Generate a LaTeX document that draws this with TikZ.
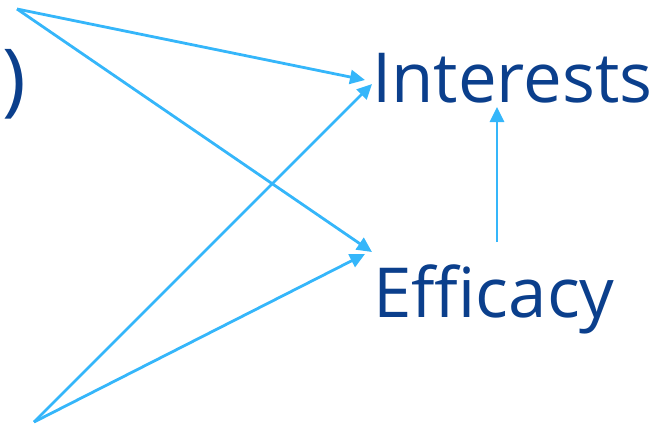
\documentclass[tikz,border=0pt]{standalone}
\usepackage{fontspec}
\setmainfont{Open Sans}
\usetikzlibrary{arrows.meta}
\definecolor{labelblue}{HTML}{0B3F8C}
\definecolor{linkblue}{HTML}{35B6FA}
\tikzset{
  label text/.style={text=labelblue, font=\fontsize{69}{69}\selectfont, inner sep=0pt, anchor=base west},
  link/.style={draw=linkblue, line width=2.8pt, -{Triangle[length=15pt,width=14pt]}}
}
\begin{document}
\begin{tikzpicture}[x=1pt,y=-1pt]
  \useasboundingbox (0,0) rectangle (660,424);
  % labels
  \node[label text] (int) at (372,102) {Interests};
  \node[label text] (eff) at (373,317) {Efficacy};
  \node[label text, anchor=base east, font=\fontsize{80}{80}\selectfont] (par) at (26,106) {)};
  % sources and arrow ends
  \coordinate (s1) at (17,9);
  \coordinate (s2) at (34,422);
  \coordinate (i1) at (365,80);
  \coordinate (i2) at (372,84);
  \coordinate (e1) at (372,252);
  \coordinate (e2) at (365,254);
  \coordinate (v0) at (497,242);
  \coordinate (v1) at (497,107);
  % connectors
  \draw[link] (s1) -- (i1);
  \draw[link] (s1) -- (e1);
  \draw[link] (s2) -- (i2);
  \draw[link] (s2) -- (e2);
  \draw[link] (v0) -- (v1);
\end{tikzpicture}
\end{document}
